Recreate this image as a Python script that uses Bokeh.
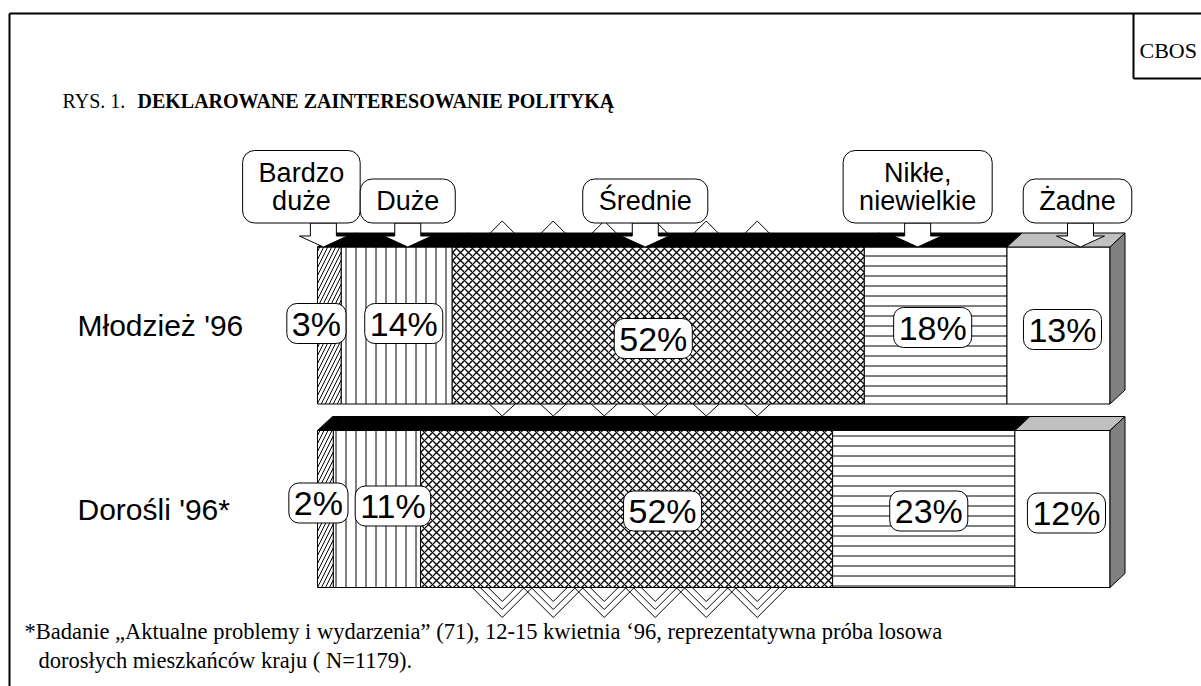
from bokeh.plotting import figure
from bokeh.models import Range1d, ColumnDataSource, Label
from bokeh.core.properties import value
from bokeh.embed import file_html
from bokeh.resources import INLINE

# ---------------- data ----------------
rows = ["Młodzież '96", "Dorośli '96*"]
categories = ["Bardzo\nduże", "Duże", "Średnie", "Nikłe,\nniewielkie", "Żadne"]
mlodziez = [3, 14, 52, 18, 13]
dorosli = [2, 11, 52, 23, 12]
title_prefix = "RYS.  1."
title_main = "DEKLAROWANE ZAINTERESOWANIE POLITYKĄ"
corner_text = "CBOS"
footnote_lines = [
    "*Badanie „Aktualne problemy i wydarzenia” (71), 12-15 kwietnia ‘96, reprezentatywna próba losowa",
    "dorosłych mieszkańców kraju ( N=1179).",
]
series = [mlodziez, dorosli]

# ---------------- layout / style ----------------
SANS = "Liberation Sans"
SERIF = "Liberation Serif"
W, H = 1201, 686
X0, PXX = 317.0, 7.925      # canvas px of 0 %, px per %
Y0, PXY = 325.0, 183.5      # canvas px of first row centre, px per row unit


def X(px):
    return (px - X0) / PXX


def Y(py):
    return 1.0 - (py - Y0) / PXY


def dX(n):
    return n / PXX


def dY(n):
    return n / PXY


p = figure(width=W, height=H, x_range=Range1d(X(0), X(W)), y_range=Range1d(Y(H), Y(0)),
           output_backend="svg", toolbar_location=None, min_border=0,
           x_axis_location=None, y_axis_location=None, outline_line_color=None)
p.grid.visible = False
p.background_fill_color = "white"
p.border_fill_color = "white"

row_pos = [len(rows) - 1 - i for i in range(len(rows))]
BAR_H = dY(157)
DX, DY = dX(15), dY(14)

patterns = ["right_diagonal_line", "vertical_line", "diagonal_cross", "horizontal_line", "blank"]
hscale = [8, 10, 8, 10, 10]
hweight = [1.0, 1.0, 1.3, 1.0, 1.0]
top_colors = ["black", "black", "black", "black", "#c0c0c0"]

front = dict(left=[], right=[], bottom=[], top=[], pat=[], sc=[], wt=[])
tops = dict(xs=[], ys=[], c=[])
sides = dict(xs=[], ys=[])
centers = []
for vals, yc in zip(series, row_pos):
    b, t = yc - BAR_H / 2, yc + BAR_H / 2
    cum = 0
    cs = []
    for j, v in enumerate(vals):
        l, r = cum, cum + v
        front["left"].append(l); front["right"].append(r)
        front["bottom"].append(b); front["top"].append(t)
        front["pat"].append(patterns[j]); front["sc"].append(hscale[j]); front["wt"].append(hweight[j])
        tops["xs"].append([l, r, r + DX, l + DX]); tops["ys"].append([t, t, t + DY, t + DY])
        tops["c"].append(top_colors[j])
        cs.append((l + r) / 2)
        cum = r
    sides["xs"].append([cum, cum + DX, cum + DX, cum]); sides["ys"].append([t, t + DY, b + DY, b])
    centers.append(cs)

# leaked hatch chevrons (decoration of the original)
s_px = X0 + sum(mlodziez[:2]) * PXX
peaks = [s_px + 50 + 51 * k for k in range(6)]
top_face_px = Y0 - 157 / 2 - 14
bot_m_px = Y0 + 157 / 2
bot_d_px = Y0 + PXY + 157 / 2
ch_xs, ch_ys = [], []
for pk in peaks:
    ch_xs.append([X(pk - 12), X(pk), X(pk + 12)]); ch_ys.append([Y(top_face_px), Y(top_face_px - 12), Y(top_face_px)])
    ch_xs.append([X(pk - 13), X(pk), X(pk + 13)]); ch_ys.append([Y(bot_m_px), Y(bot_m_px + 12), Y(bot_m_px)])
    for d in (14, 22, 30):
        ch_xs.append([X(pk - d), X(pk), X(pk + d)]); ch_ys.append([Y(bot_d_px), Y(bot_d_px + d), Y(bot_d_px)])
p.multi_line(ch_xs, ch_ys, line_color="black", line_width=1)

p.quad(left="left", right="right", bottom="bottom", top="top", source=ColumnDataSource(front),
       fill_color="white", line_color="black", line_width=1,
       hatch_pattern="pat", hatch_scale="sc", hatch_weight="wt", hatch_color="black")
p.patches("xs", "ys", source=ColumnDataSource(tops), fill_color="c", line_color="black", line_width=1)
p.patches("xs", "ys", source=ColumnDataSource(sides), fill_color="#808080", line_color="black", line_width=1)

# row labels
p.text(x=[X(77)] * len(rows), y=row_pos, text=rows, text_font=value(SANS), text_font_size="30px",
       text_align="left", text_baseline="middle", text_color="black")

# percentage labels
lab_dx = [[-13, 7, -5, -3, 4], [-7, 16, 36, 5, 4]]
lab_dy = [[-2, -2, 13, 2, 4], [-6, -3, 2, 2, 4]]
pl = dict(x=[], y=[], text=[])
for i, vals in enumerate(series):
    for j, v in enumerate(vals):
        pl["x"].append(centers[i][j] + dX(lab_dx[i][j]))
        pl["y"].append(row_pos[i] - dY(lab_dy[i][j]))
        pl["text"].append(f"{v}%")
p.text(x="x", y="y", text="text", source=ColumnDataSource(pl), text_font=value(SANS),
       text_font_size="34px", text_align="center", text_baseline="middle", text_color="black",
       background_fill_color="white", border_line_color="black", border_line_width=1,
       border_radius=10, padding=(5, 1))

# arrows + category callouts (above first row)
tip_dx = [-6, 11, -13, -18, 22]
box_dx = [-22, 0, 0, 0, -3]
tip_y = row_pos[0] + BAR_H / 2
SH, HH, HL, AL = 13, 24, 11, 24
ar_xs, ar_ys = [], []
cl = dict(x=[], y=[], text=[])
for j, c in enumerate(centers[0]):
    xc = c + dX(tip_dx[j])
    ar_xs.append([xc - dX(SH), xc + dX(SH), xc + dX(SH), xc + dX(HH), xc, xc - dX(HH), xc - dX(SH)])
    ar_ys.append([tip_y + dY(AL), tip_y + dY(AL), tip_y + dY(HL), tip_y + dY(HL), tip_y,
                  tip_y + dY(HL), tip_y + dY(HL)])
    cl["x"].append(xc + dX(box_dx[j]))
    cl["y"].append(tip_y + dY(AL))
    cl["text"].append(categories[j])
p.patches(ar_xs, ar_ys, fill_color="white", line_color="black", line_width=1)
p.text(x="x", y="y", text="text", source=ColumnDataSource(cl), text_font=value(SANS),
       text_font_size="27px", text_align="center", anchor="bottom_center", text_color="black",
       text_line_height=0.95, background_fill_color="white", border_line_color="black",
       border_line_width=1, border_radius=12, padding=(16, 7))

# frame and CBOS box
p.multi_line([[X(9), X(W + 5)], [X(9), X(9)], [X(1133), X(1133)], [X(1133), X(W + 5)]],
             [[Y(13), Y(13)], [Y(13), Y(H + 5)], [Y(13), Y(78)], [Y(78), Y(78)]],
             line_color="black", line_width=2)
p.add_layout(Label(x=X(1139), y=Y(50), text=corner_text, text_font=SERIF, text_font_size="22px",
                   text_baseline="alphabetic", text_color="black"))

# title
p.add_layout(Label(x=X(62), y=Y(100), text=title_prefix, text_font=SERIF, text_font_size="20px",
                   text_baseline="alphabetic", text_color="black"))
p.add_layout(Label(x=X(137), y=Y(100), text=title_main, text_font=SERIF, text_font_size="20px",
                   text_font_style="bold", text_baseline="alphabetic", text_color="black"))

# footnote
p.add_layout(Label(x=X(24), y=Y(631), text=footnote_lines[0], text_font=SERIF, text_font_size="22.5px",
                   text_baseline="alphabetic", text_color="black"))
p.add_layout(Label(x=X(38), y=Y(660), text=footnote_lines[1], text_font=SERIF, text_font_size="22.5px",
                   text_baseline="alphabetic", text_color="black"))

open("out.html", "w").write(file_html(p, INLINE))
